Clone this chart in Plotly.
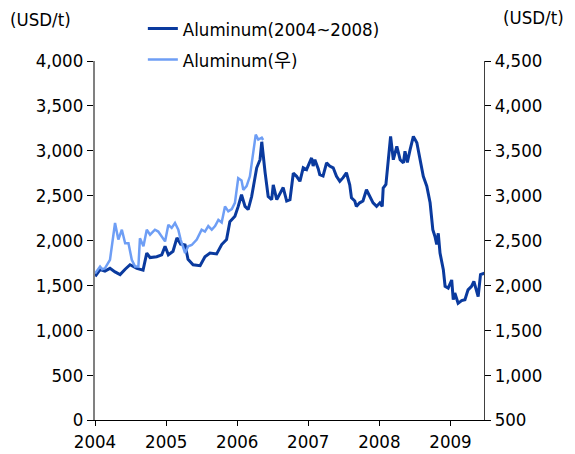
import plotly.graph_objects as go

# Dark line: Aluminum 2004~2008 (left axis, USD/t)
al_dates = [
    '2004-01-02', '2004-01-27', '2004-02-21', '2004-03-18', '2004-04-13', '2004-05-09',
    '2004-06-04', '2004-06-29', '2004-08-03', '2004-09-04', '2004-09-23', '2004-10-10',
    '2004-11-13', '2004-12-09', '2004-12-26', '2005-01-12', '2005-02-05', '2005-02-25',
    '2005-03-16', '2005-04-08', '2005-04-23', '2005-05-19', '2005-06-24', '2005-07-19',
    '2005-08-14', '2005-09-17', '2005-10-13', '2005-11-07', '2005-11-24', '2005-12-20',
    '2006-01-06', '2006-01-23', '2006-02-10', '2006-02-26', '2006-03-16', '2006-04-11',
    '2006-04-28', '2006-05-07', '2006-05-24', '2006-06-09', '2006-06-27', '2006-07-05',
    '2006-07-23', '2006-08-08', '2006-08-25', '2006-09-12', '2006-09-29', '2006-10-16',
    '2006-11-02', '2006-11-19', '2006-12-06', '2006-12-23', '2007-01-18', '2007-01-26',
    '2007-02-04', '2007-02-21', '2007-03-01', '2007-03-18', '2007-04-05', '2007-04-21',
    '2007-05-09', '2007-05-26', '2007-06-12', '2007-06-29', '2007-07-16', '2007-08-02',
    '2007-08-11', '2007-08-28', '2007-09-05', '2007-09-22', '2007-10-09', '2007-10-27',
    '2007-11-13', '2007-11-30', '2007-12-18', '2008-01-04', '2008-01-16', '2008-01-21',
    '2008-02-04', '2008-02-16', '2008-02-28', '2008-03-13', '2008-03-31', '2008-04-17',
    '2008-05-04', '2008-05-12', '2008-05-24', '2008-06-07', '2008-06-24', '2008-07-12',
    '2008-07-28', '2008-08-14', '2008-09-01', '2008-09-18', '2008-10-02', '2008-10-13',
    '2008-10-22', '2008-10-30', '2008-11-08', '2008-11-25', '2008-12-04', '2008-12-20',
    '2009-01-07', '2009-01-15', '2009-01-23', '2009-02-09', '2009-02-27', '2009-03-16',
    '2009-04-01', '2009-04-19', '2009-05-01', '2009-05-11', '2009-05-23', '2009-06-04',
    '2009-06-24',
]
al_price = [
    1600, 1675, 1660, 1690, 1650, 1620,
    1680, 1730, 1690, 1670, 1860, 1810,
    1820, 1840, 1935, 1840, 1880, 2030,
    1960, 1950, 1790, 1730, 1720, 1820,
    1860, 1850, 1955, 2010, 2210, 2270,
    2380, 2510, 2380, 2345, 2490, 2810,
    2900, 3100, 2760, 2490, 2455, 2620,
    2455, 2530, 2590, 2440, 2455, 2750,
    2715, 2660, 2810, 2790, 2920, 2830,
    2900, 2800, 2735, 2720, 2865, 2830,
    2810, 2715, 2660, 2700, 2755, 2620,
    2475, 2440, 2380, 2420, 2440, 2565,
    2490, 2420, 2380, 2420, 2380, 2585,
    2625, 2880, 3160, 2900, 3050, 2900,
    2865, 2995, 2870, 3010, 3160, 3090,
    2920, 2715, 2605, 2420, 2120, 2045,
    1955, 2080, 1860, 1675, 1490, 1470,
    1560, 1340, 1415, 1300, 1330, 1340,
    1450, 1490, 1545, 1460, 1375, 1620,
    1635,
]

# Light line: Aluminum (right axis, USD/t)
al_r_dates = [
    '2004-01-02', '2004-01-27', '2004-02-07', '2004-02-21', '2004-03-18', '2004-04-13',
    '2004-04-30', '2004-05-18', '2004-06-04', '2004-06-21', '2004-07-08', '2004-07-25',
    '2004-08-11', '2004-08-19', '2004-09-06', '2004-09-23', '2004-10-10', '2004-11-04',
    '2004-11-21', '2004-12-09', '2004-12-26', '2005-01-12', '2005-01-29', '2005-02-15',
    '2005-03-04', '2005-03-16', '2005-04-08', '2005-04-24', '2005-05-12', '2005-06-07',
    '2005-07-02', '2005-07-19', '2005-08-05', '2005-08-23', '2005-09-09', '2005-09-26',
    '2005-10-13', '2005-10-30', '2005-11-16', '2005-12-04', '2005-12-20', '2006-01-06',
    '2006-01-23', '2006-02-01', '2006-02-18', '2006-03-07', '2006-03-24', '2006-04-06',
    '2006-04-19', '2006-05-07', '2006-05-14',
]
al_r_price = [
    2135, 2210, 2180, 2190, 2285, 2695,
    2510, 2620, 2470, 2470, 2285, 2210,
    2210, 2525, 2435, 2620, 2565, 2620,
    2600, 2545, 2490, 2675, 2640, 2695,
    2620, 2510, 2360, 2435, 2450, 2510,
    2620, 2600, 2660, 2620, 2660, 2730,
    2700, 2880, 2825, 2850, 2920, 3195,
    3170, 3065, 3105, 3215, 3475, 3680,
    3625, 3645, 3620,
]

year_ticks = ['2004-01-01', '2005-01-01', '2006-01-01', '2007-01-01', '2008-01-01', '2009-01-01']
year_labels = ['2004', '2005', '2006', '2007', '2008', '2009']

FONT = 'DejaVu Sans Condensed, Liberation Sans, Noto Sans CJK KR'

fig = go.Figure()

fig.add_trace(go.Scatter(
    x=al_dates, y=al_price, name='Aluminum(2004~2008)',
    mode='lines', line=dict(color='#0A3A9E', width=3),
    legendgroup='a', yaxis='y'
))
fig.add_trace(go.Scatter(
    x=al_r_dates, y=al_r_price, name='Aluminum(우)',
    mode='lines', line=dict(color='#6E9EF5', width=2.5),
    legendgroup='b', yaxis='y2'
))

# page body has an 8px margin, so the figure is a bit smaller than the window
fig.update_layout(
    width=567, height=446,
    margin=dict(l=87, r=91, t=53, b=34, autoexpand=False),
    plot_bgcolor='white',
    paper_bgcolor='white',
    font=dict(family=FONT, size=18.5, color='black'),
    showlegend=True,
    legend=dict(
        x=0.123, y=1.142, xanchor='left', yanchor='top',
        bgcolor='rgba(0,0,0,0)', tracegroupgap=4,
        font=dict(family=FONT, size=18.5)
    ),
    xaxis=dict(
        range=['2004-01-01', '2009-06-22'],
        tickvals=year_ticks, ticktext=year_labels,
        ticks='outside', ticklen=5, tickcolor='black',
        showline=True, linecolor='black', linewidth=1,
        showgrid=False, zeroline=False, automargin=False
    ),
    yaxis=dict(
        range=[0, 4000], dtick=500, tickformat=',',
        ticks='outside', ticklen=6, tickcolor='black',
        showline=True, linecolor='#808080', linewidth=2,
        showgrid=False, zeroline=False, automargin=False
    ),
    yaxis2=dict(
        range=[500, 4500], dtick=500, tickformat=',',
        overlaying='y', side='right',
        ticks='outside', ticklen=6, tickcolor='black',
        showline=True, linecolor='#404040', linewidth=1,
        showgrid=False, zeroline=False, automargin=False
    ),
    annotations=[
        dict(text='(USD/t)', xref='paper', yref='paper', x=-0.141, y=1.115,
             xanchor='center', yanchor='middle', showarrow=False),
        dict(text='(USD/t)', xref='paper', yref='paper', x=1.128, y=1.12,
             xanchor='center', yanchor='middle', showarrow=False),
    ],
)

fig.write_html("out.html")
